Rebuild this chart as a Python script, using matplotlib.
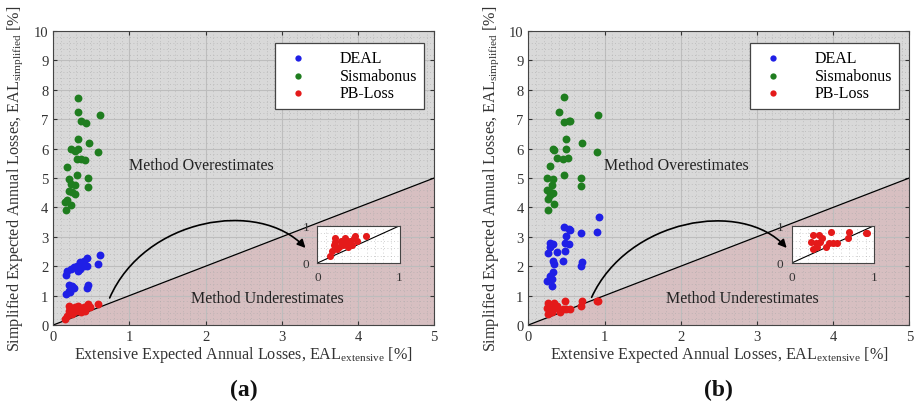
import matplotlib

matplotlib.use("Agg")
import matplotlib.pyplot as plt
from matplotlib.patches import FancyArrowPatch
from matplotlib.path import Path
from matplotlib.ticker import MultipleLocator

plt.rcParams["font.family"] = ["Liberation Serif", "DejaVu Serif"]
plt.rcParams["mathtext.fontset"] = "custom"
plt.rcParams["mathtext.rm"] = "Liberation Serif"
plt.rcParams["mathtext.it"] = "Liberation Serif:italic"

# EAL values [%]: (extensive, simplified) per building, method set (a)
deal_a_x = [0.61, 0.59, 0.44, 0.40, 0.35, 0.31, 0.27, 0.23, 0.18, 0.17, 0.40,
            0.44, 0.35, 0.33, 0.21, 0.24, 0.27, 0.20, 0.17, 0.46, 0.44, 0.22]
deal_a_y = [2.39, 2.06, 2.27, 2.19, 2.14, 2.02, 1.97, 1.91, 1.82, 1.70, 2.02,
            2.02, 1.91, 1.85, 1.36, 1.32, 1.25, 1.17, 1.06, 1.36, 1.27, 1.11]
sism_a_x = [0.32, 0.33, 0.61, 0.37, 0.43, 0.33, 0.47, 0.23, 0.28, 0.33, 0.59,
            0.31, 0.36, 0.42, 0.18, 0.31, 0.21, 0.45, 0.23, 0.28, 0.45, 0.20,
            0.25, 0.28, 0.18, 0.23, 0.17, 0.16]
sism_a_y = [7.73, 7.23, 7.14, 6.93, 6.88, 6.34, 6.18, 5.97, 5.93, 5.98, 5.88,
            5.66, 5.66, 5.60, 5.38, 5.09, 4.98, 5.00, 4.81, 4.75, 4.69, 4.55,
            4.52, 4.44, 4.24, 4.09, 3.92, 4.20]
pbl_a_x = [0.59, 0.46, 0.40, 0.35, 0.31, 0.22, 0.20, 0.18, 0.15, 0.26, 0.42,
           0.48, 0.29, 0.24, 0.37, 0.33, 0.21, 0.44]
pbl_a_y = [0.72, 0.72, 0.60, 0.55, 0.49, 0.57, 0.49, 0.32, 0.20, 0.43, 0.49,
           0.60, 0.60, 0.38, 0.43, 0.66, 0.66, 0.66]

# method set (b)
deal_b_x = [0.93, 0.47, 0.53, 0.55, 0.69, 0.90, 0.50, 0.29, 0.32, 0.48, 0.53,
            0.48, 0.26, 0.38, 0.32, 0.34, 0.46, 0.70, 0.69, 0.32, 0.29, 0.25,
            0.31, 0.31, 0.29]
deal_b_y = [3.69, 3.33, 3.27, 3.24, 3.14, 3.16, 3.01, 2.78, 2.75, 2.80, 2.75,
            2.53, 2.44, 2.48, 2.16, 2.08, 2.16, 2.14, 2.02, 1.80, 1.68, 1.51,
            1.57, 1.34, 2.65]
sism_b_x = [0.47, 0.40, 0.92, 0.47, 0.53, 0.55, 0.50, 0.70, 0.32, 0.33, 0.49,
            0.90, 0.37, 0.46, 0.52, 0.29, 0.25, 0.32, 0.47, 0.69, 0.31, 0.69,
            0.24, 0.29, 0.32, 0.26, 0.34, 0.26, 0.29]
sism_b_y = [7.74, 7.24, 7.14, 6.89, 6.93, 6.93, 6.34, 6.19, 5.97, 5.94, 5.98,
            5.89, 5.68, 5.64, 5.68, 5.40, 5.00, 4.98, 5.09, 5.00, 4.77, 4.72,
            4.58, 4.52, 4.50, 4.27, 4.10, 3.92, 4.43]
pbl_b_x = [0.92, 0.90, 0.70, 0.69, 0.48, 0.50, 0.55, 0.26, 0.33, 0.37, 0.29,
           0.26, 0.31, 0.42, 0.46, 0.35, 0.24]
pbl_b_y = [0.80, 0.80, 0.83, 0.66, 0.83, 0.55, 0.55, 0.75, 0.75, 0.66, 0.55,
           0.38, 0.43, 0.43, 0.55, 0.57, 0.57]

series_labels = ["DEAL", "Sismabonus", "PB-Loss"]
series_colors = ["#1f1fe6", "#1f7d1f", "#e41a1a"]

BG_OVER = "#d9d9d9"
BG_UNDER = "#d7bfc1"


def style_grid(ax, minor_x, minor_y):
    ax.xaxis.set_minor_locator(MultipleLocator(minor_x))
    ax.yaxis.set_minor_locator(MultipleLocator(minor_y))
    ax.grid(which="major", color="#bdbdbd", linewidth=0.8)
    ax.grid(which="minor", color="#a8a8a8", linewidth=0.6,
            linestyle=(0, (1, 3)), alpha=0.7)
    ax.set_axisbelow(True)
    ax.tick_params(which="both", direction="in", top=True, right=True,
                   length=3, color="#555555")
    ax.tick_params(which="minor", length=0)
    for sp in ax.spines.values():
        sp.set_color("#444444")
        sp.set_linewidth(0.8)


def draw_panel(fig, rect, inset_rect, deal, sism, pbl, curve, tag):
    ax = fig.add_axes(rect)
    ax.set_xlim(0, 5)
    ax.set_ylim(0, 10)
    ax.set_facecolor(BG_OVER)
    ax.fill_between([0, 5], [0, 0], [0, 5], color=BG_UNDER, zorder=0.5,
                    linewidth=0)
    ax.plot([0, 5], [0, 5], color="black", linewidth=0.9, zorder=2)
    style_grid(ax, 0.1, 0.2)
    ax.set_xticks(range(6))
    ax.set_yticks(range(11))
    ax.tick_params(labelsize=10.5, colors="#333333")

    for (xs, ys), lab, col in zip([deal, sism, pbl], series_labels,
                                  series_colors):
        ax.scatter(xs, ys, s=32, color=col, label=lab, zorder=3,
                   linewidths=0)

    ax.text(1.94, 5.45, "Method Overestimates", fontsize=11.5,
            ha="center", va="center", color="#222222", zorder=4)
    ax.text(2.81, 0.92, "Method Underestimates", fontsize=11.5,
            ha="center", va="center", color="#222222", zorder=4)

    ax.set_xlabel(r"Extensive Expected Annual Losses, EAL$_{\mathrm{extensive}}$ [%]",
                  fontsize=11.6, color="#333333", labelpad=1)
    ax.set_ylabel(r"Simplified Expected Annual Losses, EAL$_{\mathrm{simplified}}$ [%]",
                  fontsize=11.6, color="#333333", labelpad=6)

    leg = ax.legend(loc="upper right", fontsize=11.5, handletextpad=1.6,
                    borderpad=0.45, labelspacing=0.1, fancybox=False,
                    framealpha=1, edgecolor="#444444", markerscale=0.8,
                    handlelength=2.0, borderaxespad=0,
                    bbox_to_anchor=(0.974, 0.959))
    leg.get_frame().set_linewidth(0.9)

    # curved pointer from the data cloud to the zoomed view
    verts = [curve[0], curve[1], curve[2], curve[3]]
    codes = [Path.MOVETO, Path.CURVE4, Path.CURVE4, Path.CURVE4]
    arrow = FancyArrowPatch(path=Path(verts, codes), arrowstyle="-|>",
                            mutation_scale=12, color="black", linewidth=1.2,
                            zorder=4)
    ax.add_patch(arrow)

    x0, _, w, _ = rect
    fig.text(x0 + w / 2, 0.048, tag, fontsize=17, fontweight="bold",
             ha="center", va="center", color="#111111")

    ins = fig.add_axes(inset_rect)
    ins.set_xlim(0, 1)
    ins.set_ylim(0, 1)
    ins.set_facecolor("white")
    ins.plot([0, 1], [0, 1], color="black", linewidth=0.8, zorder=2)
    ins.scatter(pbl[0], pbl[1], s=26, color=series_colors[2], zorder=3,
                linewidths=0)
    style_grid(ins, 0.1, 0.2)
    ins.grid(which="major", visible=False)
    ins.set_xticks([0, 1])
    ins.set_yticks([0, 1])
    ins.tick_params(labelsize=9.5, colors="#333333", length=0, pad=6)
    return ax


def main() -> None:
    fig = plt.figure(figsize=(9.14, 4.1), dpi=100)

    draw_panel(fig, [0.0583, 0.2049, 0.4168, 0.7171],
               [0.3473, 0.3561, 0.0898, 0.0907],
               (deal_a_x, deal_a_y), (sism_a_x, sism_a_y), (pbl_a_x, pbl_a_y),
               [(0.74, 0.92), (1.2, 3.65), (2.7, 4.3), (3.31, 2.62)], "(a)")
    draw_panel(fig, [0.5781, 0.2049, 0.4168, 0.7171],
               [0.8662, 0.3561, 0.0898, 0.0907],
               (deal_b_x, deal_b_y), (sism_b_x, sism_b_y), (pbl_b_x, pbl_b_y),
               [(0.83, 0.94), (1.3, 3.6), (2.8, 4.3), (3.39, 2.62)], "(b)")

    fig.savefig("out.png", dpi=100)
    plt.close(fig)


if __name__ == "__main__":
    main()
